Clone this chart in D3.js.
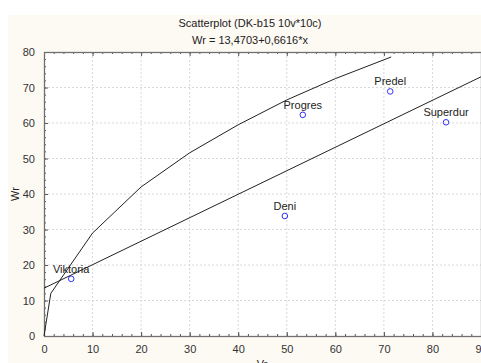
<!DOCTYPE html>
<html>
<head>
<meta charset="utf-8">
<script src="https://cdn.jsdelivr.net/npm/d3@7"></script>
<style>
  body { margin: 0; background: #fff; }
  text { font-family: "Liberation Sans", Arial, sans-serif; }
</style>
</head>
<body>
<div id="chart"></div>
<script>
// Points
const names = ['Viktoria', 'Progres', 'Predel', 'Superdur', 'Deni'];
const vr = [5.6, 53.3, 71.3, 82.8, 49.6];
const wr = [16.1, 62.3, 68.9, 60.2, 33.8];

// Second (curved) line, read point by point
const curveX = [0, 1.4, 10, 20, 30, 40, 50, 60, 71.5];
const curveY = [0, 12, 29, 42, 51.6, 59.5, 66.5, 72.5, 78.6];

// Regression line from the subtitle
const intercept = 13.4703;
const slope = 0.6616;
const fitX = [0, 90];

const xTicks = [0, 10, 20, 30, 40, 50, 60, 70, 80, 90];
const yTicks = [0, 10, 20, 30, 40, 50, 60, 70, 80];

const totalWidth = 481;
const totalHeight = 363;

const plotLeft = 44, plotTop = 52, plotRight = 481, plotBottom = 336;

const svg = d3.select('#chart')
    .append('svg')
    .attr('width', totalWidth)
    .attr('height', totalHeight);

// cream panel behind everything
svg.append('rect')
    .attr('x', 8).attr('y', 15)
    .attr('width', totalWidth - 8).attr('height', totalHeight - 15)
    .attr('fill', '#fdf9f3');

const xScale = d3.scaleLinear().domain([0, 90]).range([plotLeft, plotRight]);
const yScale = d3.scaleLinear().domain([0, 80]).range([plotBottom, plotTop]);

// plot area
svg.append('rect')
    .attr('x', plotLeft).attr('y', plotTop)
    .attr('width', plotRight - plotLeft).attr('height', plotBottom - plotTop)
    .attr('fill', '#fff');

// dashed grid
svg.append('g')
    .selectAll('line')
    .data(xTicks.slice(1, -1))
    .enter()
    .append('line')
    .attr('x1', d => xScale(d)).attr('x2', d => xScale(d))
    .attr('y1', plotTop).attr('y2', plotBottom)
    .attr('stroke', '#d8d8d8')
    .attr('stroke-dasharray', '2,2');

svg.append('g')
    .selectAll('line')
    .data(yTicks.slice(1, -1))
    .enter()
    .append('line')
    .attr('y1', d => yScale(d)).attr('y2', d => yScale(d))
    .attr('x1', plotLeft).attr('x2', plotRight)
    .attr('stroke', '#d8d8d8')
    .attr('stroke-dasharray', '2,2');

// frame with inward ticks, major every 10, minor every 2
const minorX = d3.range(0, 91, 2);
const minorY = d3.range(0, 81, 2);

svg.append('g')
    .attr('transform', `translate(0,${plotBottom})`)
    .call(d3.axisBottom(xScale).tickValues(minorX).tickSize(-2).tickFormat(''))
    .call(g => g.select('.domain').remove())
    .selectAll('line').attr('stroke', '#555');
svg.append('g')
    .attr('transform', `translate(0,${plotTop})`)
    .call(d3.axisTop(xScale).tickValues(minorX).tickSize(-2).tickFormat(''))
    .call(g => g.select('.domain').remove())
    .selectAll('line').attr('stroke', '#555');
svg.append('g')
    .attr('transform', `translate(${plotLeft},0)`)
    .call(d3.axisLeft(yScale).tickValues(minorY).tickSize(-2).tickFormat(''))
    .call(g => g.select('.domain').remove())
    .selectAll('line').attr('stroke', '#555');

const xAxis = svg.append('g')
    .attr('transform', `translate(0,${plotBottom})`)
    .call(d3.axisBottom(xScale).tickValues(xTicks).tickSize(-4).tickPadding(9));
xAxis.select('.domain').remove();
xAxis.selectAll('line').attr('stroke', '#555');
xAxis.selectAll('text')
    .attr('font-size', 11)
    .attr('fill', '#333')
    .attr('font-family', '"Liberation Sans", Arial, sans-serif');

const topAxis = svg.append('g')
    .attr('transform', `translate(0,${plotTop})`)
    .call(d3.axisTop(xScale).tickValues(xTicks).tickSize(-4).tickFormat(''));
topAxis.select('.domain').remove();
topAxis.selectAll('line').attr('stroke', '#555');

const yAxis = svg.append('g')
    .attr('transform', `translate(${plotLeft},0)`)
    .call(d3.axisLeft(yScale).tickValues(yTicks).tickSize(-4).tickPadding(9));
yAxis.select('.domain').remove();
yAxis.selectAll('line').attr('stroke', '#555');
yAxis.selectAll('text')
    .attr('font-size', 11)
    .attr('fill', '#333')
    .attr('font-family', '"Liberation Sans", Arial, sans-serif');

svg.append('rect')
    .attr('x', plotLeft + 0.5).attr('y', plotTop + 0.5)
    .attr('width', plotRight - plotLeft).attr('height', plotBottom - plotTop)
    .attr('fill', 'none')
    .attr('stroke', '#707070')
    .attr('stroke-width', 1.3);

// lines
svg.append('clipPath').attr('id', 'plotclip')
    .append('rect')
    .attr('x', plotLeft).attr('y', plotTop)
    .attr('width', plotRight - plotLeft).attr('height', plotBottom - plotTop);

const lineGen = d3.line()
    .x(d => xScale(d[0]))
    .y(d => yScale(d[1]));

svg.append('path')
    .datum(fitX.map(x => [x, intercept + slope * x]))
    .attr('d', lineGen)
    .attr('clip-path', 'url(#plotclip)')
    .attr('fill', 'none')
    .attr('stroke', '#222')
    .attr('stroke-width', 1);

svg.append('path')
    .datum(curveX.map((x, i) => [x, curveY[i]]))
    .attr('d', lineGen)
    .attr('fill', 'none')
    .attr('stroke', '#222')
    .attr('stroke-width', 1);

// points and labels
const pts = names.map((n, i) => ({ name: n, x: vr[i], y: wr[i] }));

svg.selectAll('circle.pt')
    .data(pts)
    .enter()
    .append('circle')
    .attr('class', 'pt')
    .attr('cx', d => xScale(d.x))
    .attr('cy', d => yScale(d.y))
    .attr('r', 2.8)
    .attr('fill', 'none')
    .attr('stroke', '#2f2fff')
    .attr('stroke-width', 1);

svg.selectAll('text.lbl')
    .data(pts)
    .enter()
    .append('text')
    .attr('class', 'lbl')
    .attr('x', d => xScale(d.x))
    .attr('y', d => yScale(d.y) - 6)
    .attr('text-anchor', 'middle')
    .attr('font-size', 11)
    .attr('fill', '#222')
    .text(d => d.name);

// titles
svg.append('text')
    .attr('x', 250).attr('y', 27)
    .attr('text-anchor', 'middle')
    .attr('font-size', 11)
    .attr('fill', '#222')
    .text('Scatterplot (DK-b15 10v*10c)');

svg.append('text')
    .attr('x', 250).attr('y', 44)
    .attr('text-anchor', 'middle')
    .attr('font-size', 11)
    .attr('fill', '#222')
    .text('Wr = 13,4703+0,6616*x');

svg.append('text')
    .attr('transform', 'rotate(-90)')
    .attr('x', -194).attr('y', 19)
    .attr('text-anchor', 'middle')
    .attr('font-size', 11)
    .attr('fill', '#222')
    .text('Wr');

svg.append('text')
    .attr('x', 262).attr('y', 368)
    .attr('text-anchor', 'middle')
    .attr('font-size', 11)
    .attr('fill', '#222')
    .text('Vr');
</script>
</body>
</html>
